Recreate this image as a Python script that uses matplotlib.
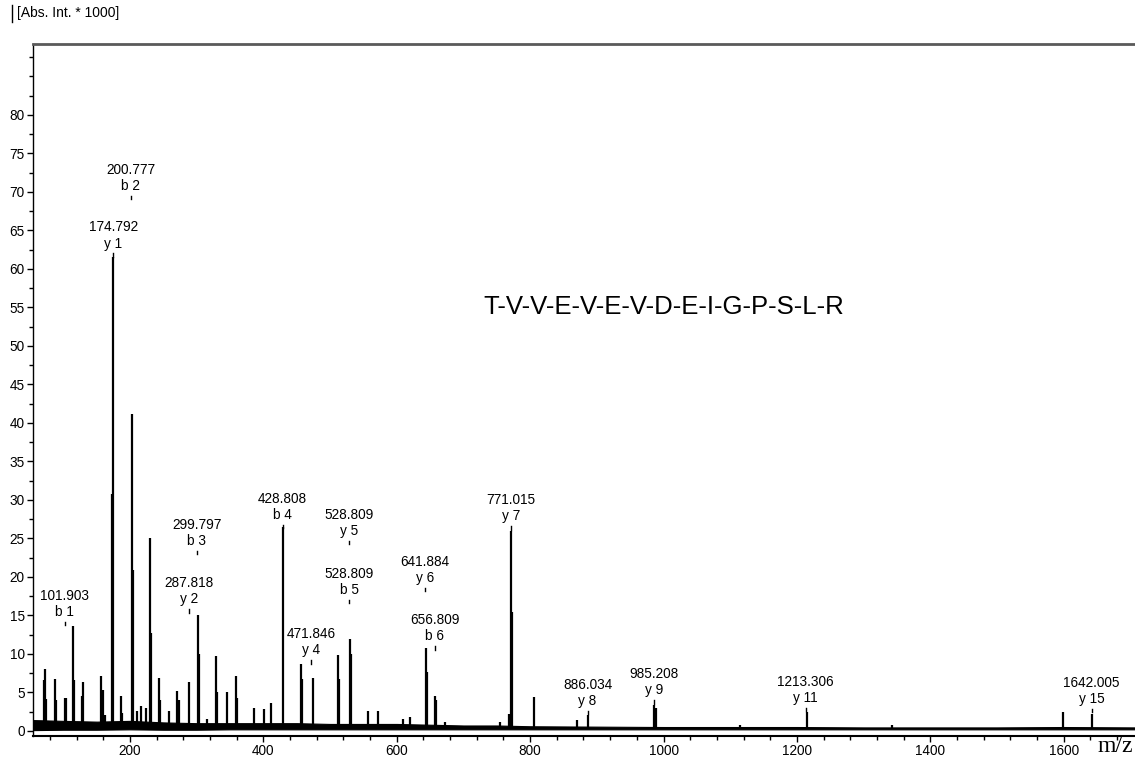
import numpy as np
import matplotlib.pyplot as plt
from matplotlib.lines import Line2D
from matplotlib.ticker import MultipleLocator

plt.rcParams['font.family'] = ['Liberation Sans', 'DejaVu Sans']

# peaks of the MS/MS spectrum: m/z and intensity (* 1000)
peak_mz = [70.9, 72.5, 74.5, 87.5, 89, 102, 103.5, 114, 115.5, 128, 130,
           156, 160, 163, 173, 175, 186, 188, 203.5, 205, 211, 216, 224,
           230.5, 232, 243, 245, 258, 271, 273, 289, 301.5, 303, 315,
           328.5, 330, 346, 358.5, 360, 386, 401.5, 412, 430, 456, 458,
           474, 512.5, 514, 530, 532, 557, 572, 610, 620, 644, 646, 657.5,
           659, 672, 755, 769, 772, 773.5, 806, 870, 887, 986, 988, 1115,
           1215, 1342, 1599, 1643]
peak_int = [6.6, 8.1, 4.2, 6.7, 4.0, 4.3, 4.3, 13.6, 6.6, 4.5, 6.4,
            7.1, 5.3, 2.0, 30.8, 61.5, 4.5, 2.3, 41.2, 20.9, 2.6, 3.2, 3.0,
            25.0, 12.7, 6.9, 4.0, 2.6, 5.2, 4.0, 6.4, 15.1, 10.0, 1.5,
            9.7, 5.0, 5.1, 7.1, 4.3, 3.0, 2.8, 3.6, 26.5, 8.7, 6.8,
            6.9, 9.9, 6.7, 11.9, 10.0, 2.6, 2.6, 1.5, 1.8, 10.7, 7.6, 4.5,
            4.0, 1.2, 1.2, 2.2, 25.9, 15.5, 4.4, 1.4, 2.1, 3.4, 3.0, 0.8,
            2.5, 0.7, 2.4, 2.2]

# noise band of the baseline
base_mz = [55, 100, 150, 200, 250, 300, 350, 400, 450, 500, 550, 600, 650,
           700, 750, 800, 900, 1000, 1100, 1200, 1300, 1400, 1500, 1600, 1707]
base_hi = [1.4, 1.3, 1.2, 1.3, 1.1, 1.0, 1.0, 1.0, 1.0, 0.9, 0.9, 0.9, 0.8,
           0.7, 0.7, 0.6, 0.55, 0.5, 0.5, 0.5, 0.45, 0.45, 0.45, 0.5, 0.45]
base_lo = [0.1, 0.15, 0.15, 0.2, 0.15, 0.15, 0.2, 0.2, 0.2, 0.2, 0.2, 0.2,
           0.2, 0.2, 0.2, 0.2, 0.2, 0.2, 0.2, 0.2, 0.2, 0.2, 0.2, 0.2, 0.2]

# annotated fragment ions: m/z, ion name, height of the marker
lab_mz = [101.903, 174.792, 200.777, 299.797, 287.818, 428.808, 471.846,
          528.809, 528.809, 641.884, 656.809, 771.015, 886.034, 985.208,
          1213.306, 1642.005]
lab_ion = ['b 1', 'y 1', 'b 2', 'b 3', 'y 2', 'b 4', 'y 4', 'y 5', 'b 5',
           'y 6', 'b 6', 'y 7', 'y 8', 'y 9', 'y 11', 'y 15']
lab_h = [14.2, 62.0, 69.5, 23.4, 15.8, 26.8, 9.2, 24.7, 17.0, 18.6, 11.0,
         26.6, 2.6, 4.0, 3.0, 2.9]

sequence = 'T-V-V-E-V-E-V-D-E-I-G-P-S-L-R'

fig = plt.figure(figsize=(11.35, 7.58), dpi=100)
ax = fig.add_axes([33/1135, 22.5/758, 1 - 33/1135, (735.5 - 44)/758])

ax.fill_between(base_mz, base_lo, base_hi, color='black', linewidth=0.8)
ax.vlines(peak_mz, 0.3, peak_int, color='black', linewidth=1.6)

for mz, ion, h in zip(lab_mz, lab_ion, lab_h):
    ax.plot([mz, mz], [h - 0.45, h], color='black', linewidth=1)
    ax.annotate(f'{mz:.3f}\n{ion}', xy=(mz, h), xytext=(0, 2),
                textcoords='offset points', ha='center', va='bottom',
                fontsize=9.8, linespacing=1.2)

ax.set_xlim(54.5, 1707)
ax.set_ylim(-0.6, 89.2)
ax.set_xticks([200, 400, 600, 800, 1000, 1200, 1400, 1600])
ax.set_yticks(np.arange(0, 85, 5))
ax.xaxis.set_minor_locator(MultipleLocator(40))
ax.yaxis.set_minor_locator(MultipleLocator(2.5))
ax.tick_params(which='both', direction='out', length=4, width=1,
               labelsize=9.8, pad=2)
ax.tick_params(which='minor', length=3)

ax.spines['right'].set_visible(False)
ax.spines['top'].set_color('#5a5a5a')
ax.spines['top'].set_linewidth(2)
ax.spines['left'].set_linewidth(1)
ax.spines['bottom'].set_linewidth(1.5)

fig.text(483/1135, 1 - 307/758, sequence, fontsize=18.5, va='center', ha='left')
fig.text(17/1135, 1 - 13/758, '[Abs. Int. * 1000]', fontsize=10,
         va='center', ha='left')
fig.add_artist(Line2D([12/1135, 12/1135], [1 - 5/758, 1 - 22/758],
                      transform=fig.transFigure, color='black', linewidth=1))
fig.text(1098/1135, 1 - 752/758, 'm/z', fontsize=17, family='Liberation Serif',
         va='baseline', ha='left')

fig.savefig('out.png', dpi=100)
